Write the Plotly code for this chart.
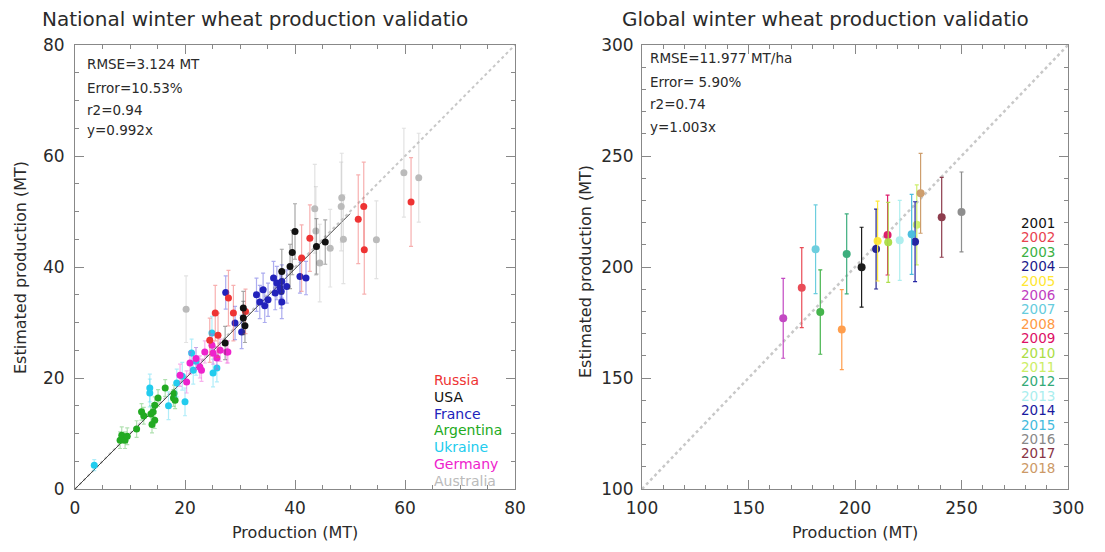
import plotly.graph_objects as go

W, H = 1105, 552
OFF = 8  # page body margin
FW, FH = W - 2 * OFF, H - 2 * OFF

def px(x):
    return (x - OFF) / FW

def py(y):
    return 1 - (y - OFF) / FH

# ---------------- Left panel data (national) ----------------
russia_prod = [25.5, 24.5, 26.0, 27.9, 28.8, 31.0, 41.2, 42.7, 51.5, 52.5, 52.6, 61.1]
russia_est = [31.7, 26.8, 27.7, 34.4, 31.7, 32.0, 41.6, 45.2, 48.6, 50.9, 43.1, 51.7]
russia_err = [5, 4, 4, 5, 5, 4, 6, 6, 8, 8, 8, 8]

usa_prod = [27.3, 30.6, 30.6, 30.9, 37.6, 39.1, 39.5, 40.0, 43.9, 45.5]
usa_est = [26.3, 32.6, 30.8, 29.4, 39.2, 40.1, 42.6, 46.4, 43.7, 44.5]
usa_err = [3, 3, 3, 3, 4, 4, 4, 5, 5, 4]

france_prod = [29.1, 30.3, 33.0, 33.6, 34.2, 35.1, 36.1, 36.4, 36.7, 37.3, 37.6, 37.6, 37.5, 34.5, 38.5, 27.4, 40.9, 42.0]
france_est = [29.9, 28.3, 35.0, 33.7, 35.9, 34.1, 38.0, 35.3, 37.1, 36.2, 33.7, 37.4, 35.6, 33.0, 36.5, 35.4, 38.3, 38.0]
france_err = [3, 3, 3, 3, 3, 3, 3, 3, 3, 3, 3, 3, 3, 3, 3, 3, 3, 3]

argentina_prod = [8.2, 8.5, 9.1, 9.5, 11.2, 12.1, 12.5, 13.8, 14.2, 14.5, 14.5, 15.1, 16.4, 17.9, 18.2, 18.0, 14.0]
argentina_est = [8.8, 9.7, 8.8, 9.5, 10.8, 13.9, 13.2, 13.5, 13.9, 12.4, 15.1, 16.4, 18.2, 16.4, 16.0, 17.2, 11.6]
argentina_err = [1.5, 1.5, 1.5, 1.5, 1.5, 1.5, 1.5, 1.5, 1.5, 1.5, 1.5, 1.5, 1.5, 1.5, 1.5, 1.5, 1.5]

ukraine_prod = [3.5, 13.6, 13.6, 18.5, 20.0, 21.2, 21.5, 25.1, 25.8, 24.9, 22.0, 19.5, 17.0]
ukraine_est = [4.3, 18.2, 17.3, 19.1, 15.7, 24.5, 21.4, 20.9, 21.8, 28.1, 23.0, 20.3, 15.0]
ukraine_err = [1, 2.5, 2.5, 2.5, 2.5, 2.5, 2.5, 2.5, 2.5, 3, 2.5, 2.5, 2.5]

germany_prod = [19.1, 20.3, 20.9, 22.7, 23.0, 23.6, 25.1, 25.8, 26.4, 27.6, 24.9, 22.0, 27.8]
germany_est = [20.5, 19.3, 22.7, 22.0, 21.4, 24.7, 24.5, 23.6, 25.0, 24.7, 25.9, 23.5, 24.7]
germany_err = [2, 2, 2, 2, 2, 2, 2, 2, 2, 2, 2, 2, 2]

australia_prod = [20.2, 43.6, 43.8, 44.5, 46.4, 48.4, 48.5, 48.8, 54.8, 59.8, 62.5]
australia_est = [32.4, 50.5, 46.5, 40.7, 43.4, 50.9, 52.5, 45.0, 44.9, 57.0, 56.1]
australia_err = [6, 8, 8, 7, 7, 8, 8, 8, 7, 8, 8]

country_names = ["Russia", "USA", "France", "Argentina", "Ukraine", "Germany", "Australia"]
country_colors = ["#ee3333", "#111111", "#2222bb", "#22aa22", "#22ccee", "#ee22cc", "#bbbbbb"]
country_err_colors = ["rgba(238,80,80,0.45)", "rgba(60,60,60,0.45)", "rgba(70,70,220,0.45)",
                      "rgba(60,180,60,0.4)", "rgba(60,210,240,0.4)", "rgba(238,60,210,0.4)",
                      "rgba(190,190,190,0.45)"]
left_stats = ["RMSE=3.124 MT", "Error=10.53%", "r2=0.94", "y=0.992x"]
left_slope = 0.992

# ---------------- Right panel data (global) ----------------
years = ["2001", "2002", "2003", "2004", "2005", "2006", "2007", "2008", "2009",
         "2010", "2011", "2012", "2013", "2014", "2015", "2016", "2017", "2018"]
global_prod = [203.1, 175.0, 183.7, 209.9, 210.6, 166.3, 181.5, 193.8, 215.3,
               215.6, 229.0, 196.1, 221.0, 228.2, 226.6, 250.0, 240.7, 230.8]
global_est = [199.9, 190.7, 179.7, 208.1, 211.7, 176.9, 208.0, 171.8, 214.4,
              211.1, 219.0, 205.9, 212.0, 211.4, 214.7, 224.8, 222.4, 233.2]
global_err = [18, 18, 19, 18, 18, 18, 20, 18, 18, 18, 18, 18, 18, 18, 18, 18, 18, 18]
year_colors = ["#111111", "#e8434f", "#3cb043", "#1a1a8c", "#ffe733", "#c040c0",
               "#66ccdd", "#ff9944", "#dd1166", "#aadd44", "#ccee66", "#33aa77",
               "#aaeeee", "#1a1aa0", "#44bbdd", "#888888", "#883344", "#cc9966"]
right_stats = ["RMSE=11.977 MT/ha", "Error= 5.90%", "r2=0.74", "y=1.003x"]

FONT = "DejaVu Sans"
TXT = "#2a2a2a"

fig = go.Figure()

# 1:1 dotted line (left)
fig.add_trace(go.Scatter(x=[0, 80], y=[0, 80], mode="lines",
                         line=dict(color="#c8c8c8", width=2, dash="dot"),
                         xaxis="x", yaxis="y", showlegend=False, hoverinfo="skip"))
# regression line (left)
fig.add_trace(go.Scatter(x=[0, 50], y=[0, 50 * left_slope], mode="lines",
                         line=dict(color="#444444", width=1),
                         xaxis="x", yaxis="y", showlegend=False, hoverinfo="skip"))

left_sets = [
    (australia_prod, australia_est, australia_err, 6),
    (argentina_prod, argentina_est, argentina_err, 3),
    (ukraine_prod, ukraine_est, ukraine_err, 4),
    (germany_prod, germany_est, germany_err, 5),
    (france_prod, france_est, france_err, 2),
    (russia_prod, russia_est, russia_err, 0),
    (usa_prod, usa_est, usa_err, 1),
]
for xs, ys, es, ci in left_sets:
    fig.add_trace(go.Scatter(
        x=xs, y=ys, mode="markers",
        marker=dict(color=country_colors[ci], size=7, line=dict(width=0)),
        error_y=dict(type="data", array=es, visible=True,
                     color=country_err_colors[ci], thickness=1.2, width=2),
        xaxis="x", yaxis="y", showlegend=False, name=country_names[ci]))

# 1:1 dotted line (right)
fig.add_trace(go.Scatter(x=[100, 300], y=[100, 300], mode="lines",
                         line=dict(color="#c8c8c8", width=2.5, dash="dot"),
                         xaxis="x2", yaxis="y2", showlegend=False, hoverinfo="skip"))

for i in range(len(years)):
    fig.add_trace(go.Scatter(
        x=[global_prod[i]], y=[global_est[i]], mode="markers",
        marker=dict(color=year_colors[i], size=8, line=dict(width=0)),
        error_y=dict(type="data", array=[global_err[i]], visible=True,
                     color=year_colors[i], thickness=1.2, width=2),
        opacity=0.95,
        xaxis="x2", yaxis="y2", showlegend=False, name=years[i]))

axis_common = dict(showgrid=False, zeroline=False, showline=True, linecolor="#888888",
                   linewidth=1, mirror="ticks", ticks="inside", ticklen=9,
                   tickcolor="#888888", tickwidth=1, automargin=False,
                   tickfont=dict(family=FONT, size=17, color=TXT))

fig.update_layout(
    width=FW, height=FH,
    margin=dict(l=0, r=0, t=0, b=0, autoexpand=False),
    paper_bgcolor="white", plot_bgcolor="white",
    xaxis=dict(domain=[px(75), px(515)], range=[0, 80], anchor="y",
               tickvals=[0, 20, 40, 60, 80], ticklabelstandoff=4,
               minor=dict(dtick=5, ticklen=4, ticks="inside", tickcolor="#888888"),
               **axis_common),
    yaxis=dict(domain=[py(489), py(45)], range=[0, 80], anchor="x",
               tickvals=[0, 20, 40, 60, 80], ticklabelstandoff=6,
               minor=dict(dtick=5, ticklen=4, ticks="inside", tickcolor="#888888"),
               **axis_common),
    xaxis2=dict(domain=[px(642), px(1068)], range=[100, 300], anchor="y2",
                tickvals=[100, 150, 200, 250, 300], ticklabelstandoff=4,
                minor=dict(dtick=10, ticklen=4, ticks="inside", tickcolor="#888888"),
                **axis_common),
    yaxis2=dict(domain=[py(489), py(45)], range=[100, 300], anchor="x2",
                tickvals=[100, 150, 200, 250, 300], ticklabelstandoff=4,
                minor=dict(dtick=10, ticklen=4, ticks="inside", tickcolor="#888888"),
                **axis_common),
)

ann = []
def add_text(text, x, y, size, color=TXT, xanchor="left", angle=0):
    ann.append(dict(text=text, x=px(x), y=py(y), xref="paper", yref="paper",
                    xanchor=xanchor, yanchor="middle", showarrow=False, textangle=angle,
                    font=dict(family=FONT, size=size, color=color)))

# titles
add_text("National winter wheat production validatio", 40, 19, 20)
add_text("Global winter wheat production validatio", 620, 19, 20)
# axis titles
add_text("Production (MT)", 295, 532, 16, xanchor="center")
add_text("Production (MT)", 855, 532, 16, xanchor="center")
add_text("Estimated production (MT)", 20, 268, 16, xanchor="center", angle=-90)
add_text("Estimated production (MT)", 585, 272, 16, xanchor="center", angle=-90)
# stats
for i, (s, yy) in enumerate(zip(left_stats, [64, 88, 110, 130])):
    add_text(s, 85, yy, 13.5)
for i, (s, yy) in enumerate(zip(right_stats, [58, 82, 104, 127])):
    add_text(s, 648, yy, 13.5)
# left legend
for i, name in enumerate(country_names):
    add_text(name, 432, 380 + i * 16.8, 14, color=country_colors[i])
# right legend
for i, yr in enumerate(years):
    add_text(yr, 1019, 223 + i * 14.4, 13.5, color=year_colors[i])

fig.update_layout(annotations=ann)
fig.write_html("out.html")
